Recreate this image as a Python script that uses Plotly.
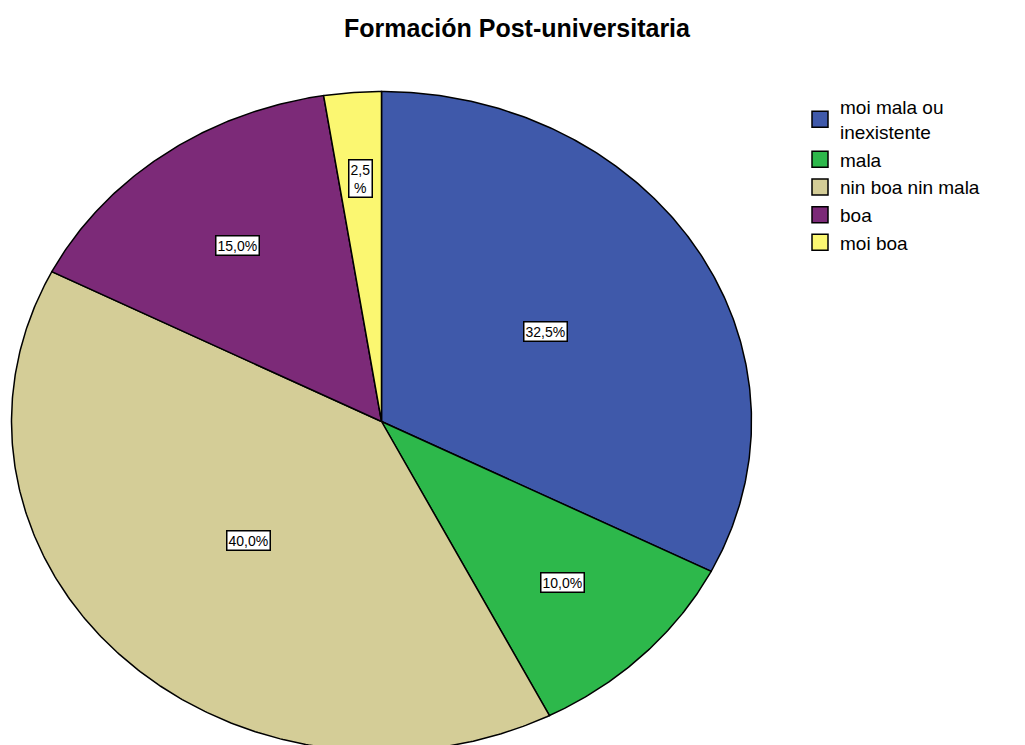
import numpy as np
import plotly.graph_objects as go

# data (percent of respondents)
categories = ["moi mala ou inexistente", "mala", "nin boa nin mala", "boa", "moi boa"]
percents = [32.5, 10.0, 40.0, 15.0, 2.5]
colors = ["#3f59aa", "#2db84b", "#d4cd97", "#7c2a78", "#fbf771"]
legend_names = ["moi mala ou<br>inexistente", "mala", "nin boa nin mala", "boa", "moi boa"]

# drawing geometry in page pixels (SPSS draws the pie as an ellipse)
W, H = 1025, 745
OFF = 8  # default body margin of the html page
cx, cy = 381.5, 421.5
rx, ry = 370.0, 330.0
label_r = [0.52, 0.69, 0.51, 0.66, 0.74]


def px_x(p):
    return (p - OFF) / (W - OFF)


def px_y(p):
    return 1 - (p - OFF) / (H - OFF)


fig = go.Figure()

total = sum(percents)
start = 0.0
for cat, val, col, lr in zip(categories, percents, colors, label_r):
    t0 = 2 * np.pi * start / total
    t1 = 2 * np.pi * (start + val) / total
    t = np.linspace(t0, t1, max(int(val * 8), 20))
    xs = np.concatenate([[cx], cx + rx * np.sin(t), [cx]])
    ys = np.concatenate([[cy], cy - ry * np.cos(t), [cy]])
    fig.add_trace(go.Scatter(
        x=xs, y=ys, mode="lines", fill="toself", fillcolor=col,
        line=dict(color="black", width=1.5), name=cat,
        showlegend=False, hoverinfo="name"))

    # boxed percentage label
    tm = (t0 + t1) / 2
    txt = f"{val:.1f}".replace(".", ",")
    txt = txt + "<br>%" if val < 5 else txt + "%"
    fig.add_annotation(
        x=cx + rx * lr * np.sin(tm), y=cy - ry * lr * np.cos(tm),
        text=txt, showarrow=False,
        font=dict(family="Liberation Sans, Arial", size=14, color="black"),
        bgcolor="white", bordercolor="black", borderwidth=1.5, borderpad=1)
    start += val

# legend entries with square swatches
for name, col in zip(legend_names, colors):
    fig.add_trace(go.Scatter(
        x=[None], y=[None], mode="markers", name=name,
        marker=dict(symbol="square", size=16, color=col,
                    line=dict(color="black", width=1.5))))

fig.update_layout(
    width=W - OFF, height=H - OFF,
    margin=dict(l=0, r=0, t=0, b=0),
    plot_bgcolor="white", paper_bgcolor="white",
    title=dict(text="<b>Formación Post-universitaria</b>",
               x=px_x(517), xanchor="center", y=px_y(28), yanchor="middle",
               font=dict(family="Liberation Sans, Arial", size=25, color="black")),
    legend=dict(x=px_x(800), y=px_y(88), xanchor="left", yanchor="top",
                font=dict(family="Liberation Sans, Arial", size=19, color="black"),
                itemsizing="trace", tracegroupgap=0,
                bgcolor="rgba(0,0,0,0)"),
    xaxis=dict(range=[OFF, W], visible=False, fixedrange=True),
    yaxis=dict(range=[H, OFF], visible=False, fixedrange=True),
)

fig.write_html("out.html")
